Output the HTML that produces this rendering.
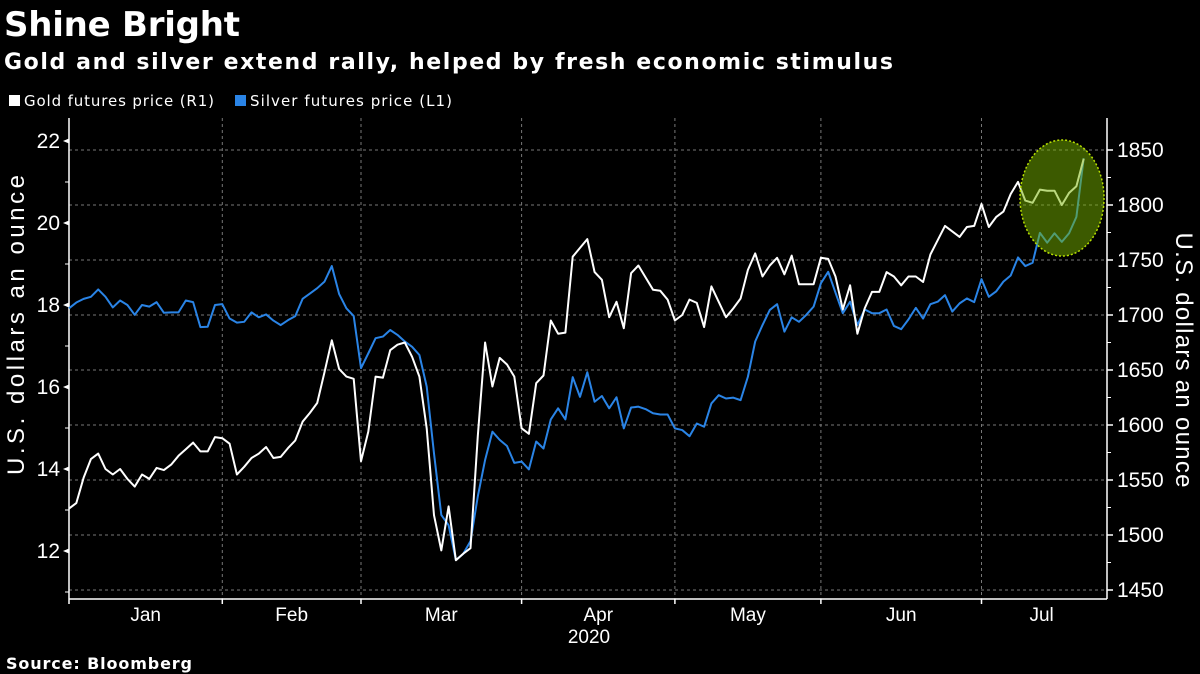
<!DOCTYPE html>
<html><head><meta charset="utf-8"><style>
body{margin:0;background:#000;width:1200px;height:674px;overflow:hidden}
svg{display:block}
</style></head><body>
<svg id="c" width="1200" height="674" xmlns="http://www.w3.org/2000/svg">
<text x="4" y="36" fill="#fff" font-family="DejaVu Sans, sans-serif" font-weight="bold" font-size="34" textLength="236">Shine Bright</text>
<text x="4" y="69" fill="#fff" font-family="DejaVu Sans, sans-serif" font-weight="bold" font-size="22" textLength="889">Gold and silver extend rally, helped by fresh economic stimulus</text>
<g font-family="DejaVu Sans, sans-serif" font-size="15" fill="#fff">
<rect x="9" y="95" width="11" height="11" fill="#fff"/>
<text x="24" y="106" textLength="190">Gold futures price (R1)</text>
<rect x="235" y="95" width="11" height="11" fill="#2a84e6"/>
<text x="250" y="106" textLength="202">Silver futures price (L1)</text>
</g>
<g id="grid"></g><g id="axes"></g><g id="lines"></g>
<text x="589" y="643" fill="#fff" font-family="Liberation Sans, sans-serif" font-size="19" text-anchor="middle">2020</text>
<text transform="translate(24,325) rotate(-90)" fill="#fff" font-family="Liberation Sans, sans-serif" font-size="24" text-anchor="middle" textLength="300">U.S. dollars an ounce</text>
<text transform="translate(1176,360) rotate(90)" fill="#fff" font-family="Liberation Sans, sans-serif" font-size="24" text-anchor="middle" textLength="255">U.S. dollars an ounce</text>
<text x="6" y="669" fill="#fff" font-family="DejaVu Sans, sans-serif" font-weight="bold" font-size="16" textLength="186">Source: Bloomberg</text>
</svg>
<script>
const gold=[1524,1529,1552,1569,1574,1560,1555,1560,1551,1544,1555,1551,1561,1559,1564,1572,1578,1584,1576,1576,1589,1588,1583,1555,1562,1570,1574,1580,1570,1571,1579,1586,1603,1611,1620,1648,1677,1651,1644,1642,1567,1594,1644,1643,1668,1673,1675,1662,1644,1597,1518,1486,1526,1477,1483,1488,1590,1675,1635,1661,1655,1644,1597,1592,1638,1645,1695,1683,1684,1753,1761,1769,1739,1732,1698,1712,1688,1738,1745,1734,1723,1722,1714,1695,1700,1714,1711,1689,1726,1712,1698,1706,1715,1741,1756,1735,1745,1752,1737,1754,1728,1728,1728,1752,1751,1735,1705,1727,1683,1706,1721,1721,1739,1735,1727,1735,1735,1730,1755,1768,1781,1776,1771,1780,1781,1801,1780,1789,1794,1810,1821,1804,1802,1814,1813,1813,1800,1811,1817,1842];
const silver=[17.92,18.06,18.15,18.20,18.38,18.20,17.94,18.11,18.00,17.76,18.00,17.96,18.07,17.81,17.82,17.82,18.11,18.07,17.46,17.47,18.00,18.02,17.67,17.57,17.59,17.82,17.70,17.77,17.62,17.51,17.63,17.73,18.15,18.28,18.41,18.57,18.95,18.27,17.92,17.73,16.46,16.82,17.19,17.23,17.39,17.27,17.11,16.98,16.78,16.01,14.38,12.88,12.63,11.78,11.93,12.24,13.33,14.22,14.91,14.71,14.56,14.15,14.18,13.99,14.67,14.50,15.21,15.48,15.21,16.24,15.76,16.36,15.64,15.78,15.48,15.75,14.99,15.50,15.52,15.46,15.36,15.33,15.33,14.99,14.95,14.80,15.11,15.03,15.60,15.80,15.72,15.74,15.68,16.25,17.11,17.51,17.88,18.02,17.35,17.70,17.59,17.76,17.96,18.53,18.81,18.30,17.80,18.08,17.51,17.89,17.80,17.80,17.89,17.49,17.41,17.65,17.93,17.67,18.02,18.08,18.24,17.84,18.04,18.16,18.07,18.63,18.20,18.33,18.57,18.72,19.16,18.95,19.03,19.76,19.52,19.75,19.54,19.75,20.15,21.58];
const months=["Jan","Feb","Mar","Apr","May","Jun","Jul"];
const monthStart=[0,21,40,62,83,103,125];
const leftTicks=[12,14,16,18,20,22];
const rightTicks=[1450,1500,1550,1600,1650,1700,1750,1800,1850];
const NS="http://www.w3.org/2000/svg";
const X0=69,DX=7.3,X1=1107,YB=599;
const xs=i=>X0+i*DX;
const yL=v=>141+(22-v)*41;
const yR=v=>150+(1850-v)*1.1;
function mk(t,a,p){const e=document.createElementNS(NS,t);for(const k in a)e.setAttribute(k,a[k]);p.appendChild(e);return e;}
const grid=document.getElementById('grid'),axes=document.getElementById('axes'),lines=document.getElementById('lines');
rightTicks.forEach(v=>{
 const l=mk('line',{x1:X0,x2:X1,y1:yR(v),y2:yR(v),stroke:'#777','stroke-width':1,'stroke-dasharray':'3,3'},grid);
 
 
 const t=mk('line',{x1:X1,x2:X1+6,y1:yR(v),y2:yR(v),stroke:'#fff','stroke-width':1.5},axes);
 
 
 const tx=mk('text',{x:X1+10,y:yR(v)+7,fill:'#fff','font-family':'Liberation Sans, sans-serif','font-size':21},axes);
 tx.textContent=v;
 
 
});
for(let v=1475;v<1850;v+=50){const t=mk('line',{x1:X1,x2:X1+4,y1:yR(v),y2:yR(v),stroke:'#fff'},axes);}
leftTicks.forEach(v=>{
 const t=mk('path',{d:`M${X0} ${yL(v)-2.5}L${X0-6} ${yL(v)}L${X0} ${yL(v)+2.5}Z`,fill:'#fff'},axes);
 
 
 const tx=mk('text',{x:X0-9,y:yL(v)+7,fill:'#fff','font-family':'Liberation Sans, sans-serif','font-size':21,'text-anchor':'end'},axes);
 tx.textContent=v;
 
 
});
for(let v=11;v<22;v+=2){const t=mk('line',{x1:X0-4,x2:X0,y1:yL(v),y2:yL(v),stroke:'#fff'},axes);}
monthStart.forEach((s,i)=>{
 const x=xs(s);
 if(i>0){const g=mk('line',{x1:x,x2:x,y1:118,y2:YB,stroke:'#777','stroke-dasharray':'3,3'},grid);}
 const t=mk('line',{x1:x,x2:x,y1:YB,y2:YB+5,stroke:'#fff','stroke-width':1.5},axes);
 
 
 const e=i<6?xs(monthStart[i+1]):xs(gold.length-1)+18;
 const tx=mk('text',{x:(x+e)/2,y:YB+22,fill:'#fff','font-family':'Liberation Sans, sans-serif','font-size':19,'text-anchor':'middle'},axes);
 tx.textContent=months[i];
 
 
});
const la=mk('line',{x1:X0,x2:X0,y1:118,y2:YB,stroke:'#fff','stroke-width':1.5},axes);
const ra=mk('line',{x1:X1,x2:X1,y1:118,y2:YB,stroke:'#fff','stroke-width':1.5},axes);
const xa=mk('line',{x1:X0,x2:X1,y1:YB,y2:YB,stroke:'#fff','stroke-width':1.5},axes);
const sp=mk('polyline',{points:silver.map((v,i)=>xs(i)+','+yL(v)).join(' '),fill:'none',stroke:'#2a84e6','stroke-width':2,'stroke-linejoin':'round'},lines);


const gp=mk('polyline',{points:gold.map((v,i)=>xs(i)+','+yR(v)).join(' '),fill:'none',stroke:'#fff','stroke-width':2,'stroke-linejoin':'round'},lines);


const el=mk('ellipse',{cx:1062,cy:198,rx:42,ry:58,fill:'rgba(120,180,0,0.5)',stroke:'#b8e000','stroke-width':1.5,'stroke-dasharray':'2,2'},lines);


</script>
</body></html>
